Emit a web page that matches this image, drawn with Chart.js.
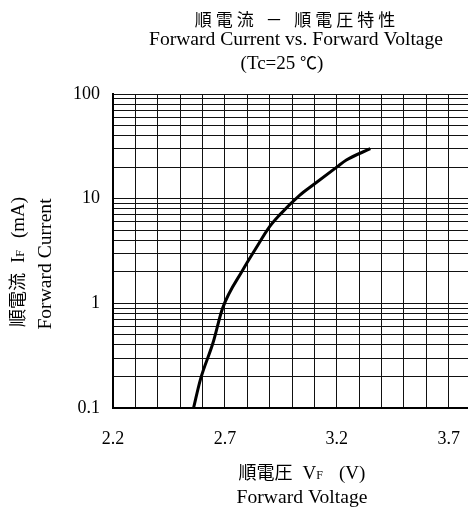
<!DOCTYPE html>
<html>
<head>
<meta charset="utf-8">
<script src="https://cdn.jsdelivr.net/npm/chart.js@4.4.1/dist/chart.umd.min.js"></script>
<style>
  html, body { margin: 0; padding: 0; background: #fff; overflow: hidden; }
  #wrap { width: 491px; height: 512px; }
</style>
</head>
<body>
<div id="wrap"><canvas id="ivChart"></canvas></div>
<script>
// Forward voltage (V) vs forward current (mA)
const forwardVoltage = [2.56, 2.59, 2.647, 2.69, 2.78, 2.834, 2.90, 2.945, 3.035, 3.094, 3.2, 3.243, 3.35];
const forwardCurrent = [0.1, 0.185, 0.42, 0.9, 2.08, 3.23, 5.4, 7.0, 10.8, 13.5, 20, 23.4, 30];

// grid lines and labelled ticks
const xGridValues = [2.2, 2.3, 2.4, 2.5, 2.6, 2.7, 2.8, 2.9, 3.0, 3.1, 3.2, 3.3, 3.4, 3.5, 3.6, 3.7, 3.8];
const xTickLabels = [2.2, 2.7, 3.2, 3.7];
const yDecades = [0.1, 1, 10];
const yMultipliers = [1, 2, 3, 4, 5, 6, 7, 8, 9];
const yTickLabels = [0.1, 1, 10, 100];

const yGridValues = [];
yDecades.forEach(d => yMultipliers.forEach(m => yGridValues.push(+(d * m).toPrecision(3))));
yGridValues.push(100);

const LATIN = '"Liberation Serif", "Times New Roman", serif';
const CJK = '"Noto Sans CJK JP", sans-serif';

// draw a row of text pieces with different fonts, centred on cx
function drawRuns(ctx, runs, cx, y) {
  let total = 0;
  runs.forEach(r => { ctx.font = r.font; total += ctx.measureText(r.text).width + (r.gap || 0); });
  let x = cx - total / 2;
  runs.forEach(r => {
    ctx.font = r.font;
    ctx.fillText(r.text, x, y + (r.dy || 0));
    x += ctx.measureText(r.text).width + (r.gap || 0);
  });
}

function drawSpaced(ctx, text, cx, y, font, spacing) {
  ctx.font = font;
  const chars = Array.from(text);
  let total = 0;
  chars.forEach(c => total += ctx.measureText(c).width + spacing);
  total -= spacing;
  let x = cx - total / 2;
  chars.forEach(c => { ctx.fillText(c, x, y); x += ctx.measureText(c).width + spacing; });
}

const textPlugin = {
  id: 'labels',
  afterDraw(chart) {
    const ctx = chart.ctx;
    ctx.save();
    ctx.fillStyle = '#000';
    ctx.textAlign = 'left';

    // title
    ctx.textBaseline = 'middle';
    drawSpaced(ctx, '順電流 － 順電圧特性', 295, 20, '17px ' + CJK, 4);
    ctx.textBaseline = 'alphabetic';
    drawRuns(ctx, [{ text: 'Forward Current vs. Forward Voltage', font: '19.6px ' + LATIN }], 296, 45);
    drawRuns(ctx, [
      { text: '(Tc=25 ', font: '19px ' + LATIN },
      { text: '℃', font: '17px ' + CJK },
      { text: ')', font: '19px ' + LATIN }
    ], 282, 69);

    // x axis title
    drawRuns(ctx, [
      { text: '順電圧', font: '18px ' + CJK, gap: 10 },
      { text: 'V', font: '19px ' + LATIN },
      { text: 'F', font: '12px ' + LATIN, gap: 16 },
      { text: '(V)', font: '19px ' + LATIN }
    ], 302, 479);
    drawRuns(ctx, [{ text: 'Forward Voltage', font: '19.6px ' + LATIN }], 302, 503);

    // y axis title (rotated)
    ctx.save();
    ctx.translate(24, 262);
    ctx.rotate(-Math.PI / 2);
    drawRuns(ctx, [
      { text: '順電流', font: '18px ' + CJK, gap: 10 },
      { text: 'I', font: '19px ' + LATIN },
      { text: 'F', font: '12px ' + LATIN, gap: 12 },
      { text: '(mA)', font: '19px ' + LATIN }
    ], 0, 0);
    ctx.restore();
    ctx.save();
    ctx.translate(51, 264);
    ctx.rotate(-Math.PI / 2);
    drawRuns(ctx, [{ text: 'Forward Current', font: '19.6px ' + LATIN }], 0, 0);
    ctx.restore();

    ctx.restore();
  }
};

const ctx = document.getElementById('ivChart').getContext('2d');
new Chart(ctx, {
  type: 'line',
  data: {
    datasets: [{
      data: forwardVoltage.map((v, i) => ({ x: v, y: forwardCurrent[i] })),
      borderColor: '#000',
      borderWidth: 3,
      pointRadius: 0,
      cubicInterpolationMode: 'monotone',
      fill: false
    }]
  },
  options: {
    responsive: true,
    maintainAspectRatio: false,
    animation: false,
    layout: { padding: { top: 94, left: 0, right: 9, bottom: 0 } },
    plugins: {
      legend: { display: false },
      tooltip: { enabled: false }
    },
    scales: {
      x: {
        type: 'linear',
        min: 2.2,
        max: 3.8,
        afterBuildTicks: axis => { axis.ticks = xGridValues.map(v => ({ value: v })); },
        afterFit: axis => { axis.height = 104; },
        grid: { color: '#111', lineWidth: 1, drawTicks: false },
        border: { color: '#000', width: 2 },
        ticks: {
          autoSkip: false,
          maxRotation: 0,
          padding: 20,
          color: '#000',
          font: { family: LATIN, size: 18 },
          callback: v => {
            const hit = xTickLabels.find(t => Math.abs(t - v) < 1e-6);
            return hit !== undefined ? hit.toFixed(1) : '';
          }
        }
      },
      y: {
        type: 'logarithmic',
        min: 0.1,
        max: 100,
        afterBuildTicks: axis => { axis.ticks = yGridValues.map(v => ({ value: v })); },
        afterFit: axis => { axis.width = 113; },
        grid: { color: '#111', lineWidth: 1, drawTicks: false },
        border: { color: '#000', width: 2 },
        ticks: {
          autoSkip: false,
          padding: 13,
          color: '#000',
          font: { family: LATIN, size: 18 },
          callback: v => {
            const hit = yTickLabels.find(t => Math.abs(t - v) < 1e-9);
            return hit !== undefined ? String(hit) : '';
          }
        }
      }
    }
  },
  plugins: [textPlugin]
});
</script>
</body>
</html>
